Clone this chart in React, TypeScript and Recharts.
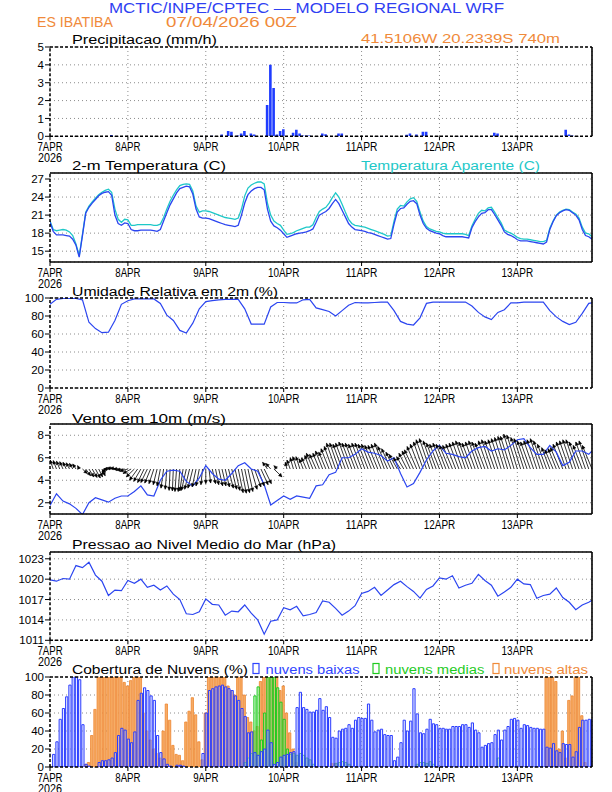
import React from 'react';
import { ComposedChart, Bar, Line, XAxis, YAxis, CartesianGrid, ReferenceLine } from 'recharts';

const FONT = '"Liberation Sans", Arial, Helvetica, sans-serif';
const C_TITLE = '#2f3ff2';
const C_LINE = '#2b45f0';
const C_CYAN = '#1ec8c8';
const C_ORANGE = '#f08a3a';
const C_GREEN = '#1fcb1f';

// time axis: hours since 07APR2026 00Z
const END_HOUR = 167;
const dayTicks = [0, 24, 48, 72, 96, 120, 144];
const dayLabels = ['7APR', '8APR', '9APR', '10APR', '11APR', '12APR', '13APR'];
const yearLabel = '2026';

const hourly = Array.from({ length: 168 }, (_, i) => i); // 0..167
const barHours = Array.from({ length: 167 }, (_, i) => i + 1); // 1..167
const twoHourly = [...Array.from({ length: 84 }, (_, i) => i * 2), 167];

// precipitation (mm/h), sparse
const precipHours = [2, 3, 4, 5, 19, 46, 47, 48, 50, 53, 55, 56, 58, 59, 60, 62, 63, 67, 68, 69, 70, 71, 72, 75, 76, 77, 78, 79, 80, 84, 85, 89, 90, 101, 102, 103, 110, 111, 113, 115, 116, 126, 127, 128, 137, 138, 152, 153, 159, 160, 161];
const precipValues = [0.02, 0.02, 0.02, 0.02, 0.07, 0.02, 0.02, 0.02, 0.03, 0.1, 0.3, 0.25, 0.05, 0.15, 0.3, 0.15, 0.1, 1.75, 4.0, 2.7, 0.1, 0.3, 0.4, 0.2, 0.37, 0.15, 0.04, 0.04, 0.04, 0.15, 0.12, 0.15, 0.15, 0.02, 0.02, 0.02, 0.08, 0.15, 0.1, 0.25, 0.25, 0.02, 0.02, 0.02, 0.2, 0.15, 0.02, 0.02, 0.37, 0.1, 0.05];

// 2-m temperature (C), hourly
const temp2m = [
  19.8, 18.3, 17.7, 17.7, 17.7, 17.6, 17.5, 17.0, 16.0, 14.0,
  17.6, 21.3, 22.3, 23.0, 23.6, 24.2, 24.6, 24.8, 24.9, 24.3,
  21.0, 19.6, 19.3, 19.7, 19.6, 18.6, 18.4, 18.4, 18.5, 18.5,
  18.5, 18.5, 18.4, 18.3, 18.6, 20.0, 21.4, 22.7, 23.7, 24.7,
  25.4, 25.6, 25.8, 25.7, 24.5, 22.0, 20.7, 20.5, 20.5, 20.4,
  20.2, 20.0, 19.8, 19.6, 19.4, 19.3, 19.2, 19.1, 19.3, 21.0,
  23.0, 24.4, 25.0, 25.4, 25.6, 25.6, 25.2, 22.0, 20.0, 19.2,
  18.9, 18.5, 17.9, 17.3, 17.5, 17.7, 17.9, 18.0, 18.1, 18.2,
  18.4, 18.7, 19.8, 21.0, 21.3, 21.6, 22.1, 22.9, 23.6, 22.9,
  21.8, 20.7, 19.6, 19.0, 18.6, 18.5, 18.4, 18.3, 18.1, 18.0,
  17.8, 17.6, 17.4, 17.2, 17.0, 17.1, 19.5, 21.5, 22.1, 22.2,
  22.8, 23.3, 23.4, 22.9, 21.0, 19.6, 18.8, 18.4, 18.2, 18.0,
  17.9, 17.6, 17.4, 17.4, 17.4, 17.4, 17.4, 17.4, 17.3, 17.2,
  18.9, 19.9, 20.7, 21.3, 21.4, 21.9, 21.9, 21.1, 20.2, 19.3,
  18.2, 17.8, 17.6, 17.3, 16.9, 16.7, 16.7, 16.7, 16.6, 16.5,
  16.4, 16.3, 16.2, 16.5, 18.6, 19.9, 20.9, 21.4, 21.7, 21.9,
  21.8, 21.4, 21.0, 20.2, 18.6, 17.6, 17.4, 17.0,
];

// apparent temperature (C), hourly
const tempApparent = [
  20.0, 18.6, 18.4, 18.5, 18.6, 18.5, 18.2, 17.6, 16.2, 14.2,
  17.8, 21.5, 22.5, 23.2, 23.8, 24.4, 24.8, 25.1, 25.3, 24.8,
  22.0, 20.3, 19.8, 20.3, 20.2, 19.3, 19.3, 19.4, 19.4, 19.4,
  19.4, 19.4, 19.3, 19.3, 19.5, 20.6, 22.0, 23.3, 24.3, 25.2,
  25.9, 26.1, 26.2, 26.1, 25.0, 22.5, 21.5, 21.7, 21.7, 21.6,
  21.4, 21.2, 21.0, 20.8, 20.6, 20.5, 20.4, 20.3, 20.5, 22.0,
  24.2, 25.5, 26.0, 26.3, 26.5, 26.5, 26.2, 23.0, 21.0, 20.0,
  19.6, 19.3, 18.5, 17.8, 17.9, 18.1, 18.4, 18.6, 18.8, 19.0,
  19.0, 19.4, 20.6, 21.6, 22.0, 22.3, 23.0, 23.9, 24.7, 24.0,
  22.8, 21.5, 20.3, 19.6, 19.3, 19.2, 19.1, 19.0, 18.8, 18.6,
  18.4, 18.2, 18.0, 17.8, 17.5, 17.6, 20.0, 22.0, 22.6, 22.5,
  23.2, 23.7, 23.9, 23.3, 21.5, 20.0, 19.1, 18.7, 18.5, 18.3,
  18.2, 18.0, 17.9, 17.9, 17.9, 17.9, 17.9, 17.9, 17.8, 17.6,
  19.2, 20.3, 21.3, 21.8, 21.7, 22.2, 22.3, 21.5, 20.6, 19.7,
  18.5, 18.2, 18.0, 17.7, 17.3, 17.1, 17.0, 17.0, 16.9, 16.8,
  16.7, 16.6, 16.6, 16.8, 18.8, 20.0, 21.0, 21.5, 21.8, 22.0,
  21.9, 21.5, 21.2, 20.5, 19.0, 18.0, 17.9, 17.4,
];

// relative humidity (%), every 2 h
const relHumidity = [
  93, 98.5, 99.5, 99.5, 99.5, 98,
  73, 66, 61.5, 62, 75, 93,
  97, 99, 99, 99, 99, 94,
  81, 75, 64, 61, 72, 88,
  96, 97, 98, 98.5, 98.5, 98.5,
  88, 71, 71, 71, 90, 95,
  95, 94.5, 94.5, 98, 98.5, 89,
  87, 85, 80, 86, 92, 95,
  94.5, 94.5, 95, 95.5, 95.5, 86,
  74, 71, 70, 78, 94, 95.5,
  95.5, 95.5, 95.5, 95.5, 95.5, 91,
  84, 79, 76, 84, 87, 94.5,
  94.5, 95.5, 95.5, 95.5, 95.5, 86,
  79, 74, 70.5, 73, 83, 94,
  94.5,
];

// 10 m wind speed (m/s), every 2 h
const windSpeed = [
  1.75, 2.8, 2.15, 1.9, 1.5, 0.95,
  2.0, 2.45, 2.25, 2.05, 2.4, 2.6,
  2.6, 3.0, 3.5, 2.7, 2.6, 4.0,
  4.8, 4.9, 4.8, 3.9, 3.5, 4.2,
  5.3, 4.6, 4.1, 4.0, 4.6, 5.3,
  5.55, 5.0, 4.8, 3.6, 1.8, 2.2,
  2.6, 2.3, 2.6, 2.5, 2.4, 3.5,
  3.6, 4.5, 4.7, 6.0, 6.0, 6.3,
  6.8, 6.5, 6.4, 6.2, 5.7, 6.0,
  4.6, 3.4, 3.7, 4.7, 5.8, 6.6,
  7.1, 6.4, 6.3, 6.1, 6.0, 6.6,
  6.9, 7.0, 6.6, 6.8, 6.7, 7.1,
  7.6, 7.7, 6.9, 6.3, 6.3, 7.1,
  6.5, 5.3, 5.6, 6.6, 6.6, 6.3,
  6.6,
];

// wind vectors drawn from the 5 m/s line: tip height and horizontal offset (h), hourly
const windTip = [
  5.85, 5.8, 5.75, 5.7, 5.65, 5.6, 5.55, 5.5, 5.45, 5.3,
  4.6, 4.4, 4.3, 4.25, 4.2, 4.3, 4.4, 4.6, 4.8, 5.0,
  5.1, 5.1, 5.0, 4.9, 4.8, 4.6, 4.3, 4.0, 3.9, 3.8,
  3.8, 3.75, 3.7, 3.6, 3.5, 3.3, 3.2, 3.1, 3.05, 3.0,
  3.0, 3.05, 3.1, 3.2, 3.3, 3.4, 3.5, 3.6, 3.7, 3.75,
  3.7, 3.6, 3.5, 3.5, 3.4, 3.3, 3.2, 3.1, 2.9, 2.85,
  2.9, 3.0, 3.2, 3.4, 3.5, 3.6, 3.7, 5.6, 5.5, 4.3,
  5.3, null, null, 5.6, 5.8, 6.0, 6.1, 6.1, 5.9, 6.0,
  6.2, 6.4, 6.3, 6.4, 6.6, 6.5, 6.8, 7.0, 7.3, 7.3,
  7.2, 7.3, 7.4, 7.3, 7.3, 7.2, 7.3, 7.3, 7.2, 7.2,
  7.1, 7.1, 7.2, 7.3, 7.0, 6.8, 6.5, 6.3, 6.0, 6.1,
  6.4, 6.6, 6.7, 7.0, 7.2, 7.4, 7.6, 7.7, 7.5, 7.3,
  7.2, 7.3, 7.2, 7.1, 7.1, 7.2, 7.3, 7.4, 7.5, 7.4,
  7.3, 7.4, 7.5, 7.4, 7.3, 7.5, 7.6, 7.5, 7.6, 7.7,
  7.8, 7.9, 7.9, 8.1, 8.0, 7.8, 7.7, 7.5, 7.4, 7.5,
  7.6, 7.7, 7.5, 7.2, 6.9, 6.7, 6.8, 6.9, 7.2, 7.4,
  7.5, 7.6, 7.6, 7.4, 7.1, 7.4, 7.5, 7.1,
];
const windDx = [
  -1, -1, -1, -1, -1, -1, -1, -1, -1, -0.5,
  1.5, 1.5, 1.5, 1.5, 1.5, 1.2, 1, -1, -2, -2.5,
  -2.5, -2.5, -2.5, -2.5, -2.5, -2.5, -2.5, -2.5, -2.2, -2,
  -2, -1.8, -1.5, -1.2, -1, -0.8, -0.5, -0.3, -0.3, -0.5,
  -0.5, -1, -1.5, -1.5, -1.5, -1.2, -1, -0.5, 0, 0.5,
  1, 1, 1.2, 1.2, 1.3, 1.5, 1.5, 1.5, 1.5, 1.5,
  1.5, 1.5, 1.8, 2, 2, 2.2, 2.2, -1.5, -1.5, 2.5,
  -1, 0, 0, -0.5, -1, -1, -1.2, -1.2, -1.2, -1.5,
  -1.5, -2, -2, -2, -2.2, -2.2, -2.5, -2.5, -2.8, -2.8,
  -2.8, -3, -3, -3, -3, -3, -3, -3, -3, -3,
  -3, -3, -3, -3, -3, -2.8, -2.5, -2.5, -2.2, -2.2,
  -2.5, -2.5, -2.8, -3, -3, -3, -3.2, -3.2, -3, -3,
  -3, -3, -3, -3, -3, -3, -3, -3, -3, -3,
  -3, -3, -3, -3, -3, -3, -3, -3, -3, -3,
  -3, -3, -3.2, -3.2, -3.2, -3, -3, -3, -3, -3,
  -3, -3, -3, -2.8, -2.5, -2.5, -2.5, -2.8, -3, -3,
  -3, -3, -3, -3, -2.8, -3, -3, -3,
];

// mean sea level pressure (hPa), every 2 h
const pressure = [
  1019.9, 1019.7, 1020.1, 1020.0, 1022.0, 1021.7,
  1022.5, 1020.6, 1019.7, 1017.6, 1018.4, 1018.3,
  1019.8, 1019.4, 1020.0, 1018.8, 1019.1, 1018.4,
  1019.0, 1017.8, 1017.0, 1014.9, 1014.8, 1015.2,
  1017.1, 1016.3, 1016.2, 1014.7, 1015.3, 1015.2,
  1016.2, 1015.0, 1014.0, 1011.9, 1013.8, 1014.0,
  1015.8, 1015.5, 1016.0, 1014.6, 1014.8, 1015.1,
  1016.8, 1016.6, 1015.7, 1014.7, 1015.3, 1016.1,
  1017.9, 1018.2, 1018.8, 1017.6, 1018.4, 1019.2,
  1019.7, 1018.9, 1018.2, 1017.2, 1018.5, 1019.0,
  1020.2, 1020.0, 1020.5, 1018.7, 1019.1, 1019.4,
  1020.7, 1019.8, 1019.1, 1017.5, 1018.1, 1018.8,
  1020.0, 1019.3, 1019.2, 1017.2, 1017.6, 1017.8,
  1018.7, 1017.3, 1016.6, 1015.5, 1016.2, 1016.6,
  1016.9,
];

// cloud cover (%), hourly from 01Z
const cloudLow = [
  14, 28, 53, 65, 78, 91, 100, 100, 97, 47, 3, 1, 0, 0, 5, 7, 7, 8, 10, 16, 35, 43, 41, 31,
  27, 39, 74, 82, 88, 85, 79, 74, 35, 16, 9, 3, 1, 0, 2, 2, 1, 0, 0, 0, 0, 0, 15, 60,
  85, 87, 89, 90, 91, 89, 87, 85, 79, 74, 65, 56, 38, 39, 16, 13, 17, 20, 41, 27, 3, 5, 11, 13,
  14, 16, 17, 66, 83, 66, 64, 61, 61, 63, 76, 63, 67, 55, 33, 32, 40, 42, 43, 47, 43, 52, 55, 54,
  54, 70, 52, 39, 41, 42, 36, 35, 35, 7, 11, 27, 52, 40, 51, 87, 59, 38, 37, 42, 53, 48, 47, 43,
  43, 42, 42, 45, 45, 45, 47, 47, 44, 49, 41, 38, 22, 24, 26, 27, 36, 41, 30, 41, 45, 53, 54, 52,
  43, 47, 46, 44, 43, 43, 42, 42, 22, 21, 26, 18, 16, 26, 25, 25, 11, 17, 44, 52, 52, 53, 53,
];
const cloudMid = [
  0, 0, 0, 0, 0, 0, 0, 0, 0, 0, 0, 0, 0, 0, 0, 0, 0, 0, 0, 0, 0, 0, 0, 0,
  0, 0, 0, 0, 0, 0, 0, 0, 0, 0, 0, 0, 0, 0, 0, 0, 0, 0, 0, 0, 0, 0, 0, 0,
  0, 0, 0, 0, 0, 0, 0, 0, 0, 0, 0, 5, 10, 15, 79, 89, 30, 60, 100, 100, 100, 88, 72, 53,
  20, 14, 15, 13, 15, 13, 10, 8, 3, 0, 0, 0, 0, 0, 0, 4, 5, 6, 5, 3, 0, 0, 0, 0,
  0, 0, 0, 0, 0, 0, 0, 0, 0, 0, 0, 0, 0, 0, 0, 0, 3, 5, 5, 4, 6, 3, 0, 0,
  0, 0, 0, 0, 0, 0, 0, 0, 0, 0, 0, 0, 0, 0, 0, 0, 0, 10, 0, 0, 0, 0, 0, 0,
  0, 0, 0, 0, 0, 0, 0, 0, 0, 0, 0, 0, 0, 0, 0, 0, 0, 0, 0, 0, 0, 0, 0,
];
const cloudHigh = [
  0, 0, 0, 0, 0, 0, 0, 0, 0, 0, 3, 5, 35, 64, 100, 100, 100, 100, 100, 100, 100, 100, 94, 90,
  96, 100, 100, 100, 60, 40, 30, 20, 15, 10, 40, 70, 52, 24, 14, 13, 7, 50, 62, 77, 58, 28, 8, 60,
  100, 100, 100, 100, 100, 100, 90, 85, 80, 100, 100, 80, 55, 50, 40, 45, 95, 100, 100, 100, 100, 100, 85, 90,
  60, 38, 20, 5, 0, 0, 0, 0, 0, 0, 0, 0, 0, 0, 4, 4, 0, 0, 0, 0, 0, 0, 0, 0,
  0, 0, 0, 0, 0, 0, 0, 0, 0, 0, 0, 0, 0, 0, 0, 0, 0, 0, 0, 0, 0, 0, 0, 0,
  0, 0, 0, 0, 0, 0, 0, 0, 0, 0, 0, 0, 0, 0, 0, 0, 0, 0, 0, 0, 0, 0, 0, 0,
  0, 0, 0, 0, 0, 0, 0, 0, 100, 100, 100, 95, 20, 40, 10, 74, 79, 100, 100, 57, 5, 0, 0,
];

// tables for the library
const precipData = precipHours.map((h, i) => ({ h, p: precipValues[i] }));
const tempData = hourly.map((h, i) => ({ h, t: temp2m[i], a: tempApparent[i] }));
const rhData = twoHourly.map((h, i) => ({ h, rh: relHumidity[i] }));
const windData = twoHourly.map((h, i) => ({ h, v: windSpeed[i] }));
const presData = twoHourly.map((h, i) => ({ h, p: pressure[i] }));
const cloudData = barHours.map((h, i) => ({ h, low: cloudLow[i], mid: cloudMid[i], high: cloudHigh[i] }));
const arrowData: any[] = [];
windTip.forEach((tip, h) => {
  if (tip == null) return;
  arrowData.push({ h, y: 5 });
  arrowData.push({ h: h + windDx[h], y: tip, tip: true });
  arrowData.push({ h: h + windDx[h], y: null });
});

const W = 612;
const TOPPAD = 9;
const AXIS_H = 30;

const DayTick = ({ x, y, payload }: any) => {
  const i = Math.round(payload.value / 24);
  const label = dayLabels[i] || '';
  return (
    <g>
      <text x={x} y={y + 8.5} textAnchor="middle" fontFamily={FONT} fontSize={12} fill="#000"
        textLength={label.length * 6.3} lengthAdjust="spacingAndGlyphs">{label}</text>
      {i === 0 && (
        <text x={x} y={y + 19.5} textAnchor="middle" fontFamily={FONT} fontSize={12} fill="#000"
          textLength={24} lengthAdjust="spacingAndGlyphs">{yearLabel}</text>
      )}
    </g>
  );
};

const ArrowHead = (props: any) => {
  const { cx, cy, index, payload, points } = props;
  const key = `ah-${index}`;
  if (!payload || !payload.tip || cx == null || cy == null || !points) return <g key={key} />;
  const base = points[index - 1];
  if (!base || base.x == null || base.y == null) return <g key={key} />;
  const dx = cx - base.x;
  const dy = cy - base.y;
  const len = Math.hypot(dx, dy);
  if (len < 0.5) return <g key={key} />;
  const ux = dx / len;
  const uy = dy / len;
  const hl = 3.4;
  const hw = 1.7;
  const bx = cx - ux * hl;
  const by = cy - uy * hl;
  const d = `M${cx},${cy}L${bx - uy * hw},${by + ux * hw}L${bx + uy * hw},${by - ux * hw}Z`;
  return <path key={key} d={d} fill="#000" stroke="#000" strokeWidth={0.4} />;
};

const timeAxis = (id: any = 0, hide = false) => (
  <XAxis
    key={`x-${id}`}
    xAxisId={id}
    type="number"
    dataKey="h"
    domain={[0, END_HOUR]}
    allowDataOverflow
    ticks={dayTicks}
    interval={0}
    axisLine={false}
    tickLine={{ stroke: '#000' }}
    tickSize={4}
    tick={(p: any) => <DayTick {...p} />}
    height={AXIS_H}
    hide={hide}
  />
);

const valueAxis = (domain: number[], ticks: number[]) => (
  <YAxis
    type="number"
    domain={domain}
    ticks={ticks}
    interval={0}
    allowDataOverflow
    axisLine={false}
    tickLine={{ stroke: '#000' }}
    tickSize={5}
    tickMargin={1}
    width={50}
    tick={{ fontSize: 11.5, fill: '#000', fontFamily: FONT }}
  />
);

const grid = <CartesianGrid stroke="#8c8c8c" strokeDasharray="1 3" />;

const frame = (y0: number, y1: number, topDash: boolean, bottomDash: boolean) => [
  <ReferenceLine key="fl" x={0} stroke="#000" strokeWidth={1.5} strokeDasharray="3 2" />,
  <ReferenceLine key="fr" x={END_HOUR} stroke="#000" strokeWidth={1.6} />,
  <ReferenceLine key="ft" y={y1} stroke="#000" strokeWidth={1.5} strokeDasharray={topDash ? '3 2' : undefined} />,
  <ReferenceLine key="fb" y={y0} stroke="#000" strokeWidth={1.5} strokeDasharray={bottomDash ? '3 2' : undefined} />,
];

const chartBox = (plotTop: number, plotH: number) => ({
  style: { position: 'absolute' as const, left: 0, top: plotTop - TOPPAD },
  height: TOPPAD + plotH + AXIS_H,
});

const margin = { top: TOPPAD, right: 20, bottom: 0, left: 0 };

type Txt = { x: number; y: number; w: number; size: number; color: string; text: string };
const texts: Txt[] = [
  { x: 109, y: 13, w: 395, size: 15, color: C_TITLE, text: 'MCTIC/INPE/CPTEC \u2014 MODELO REGIONAL WRF' },
  { x: 37, y: 26.5, w: 76, size: 14, color: C_ORANGE, text: 'ES IBATIBA' },
  { x: 166, y: 26.5, w: 131, size: 14, color: C_ORANGE, text: '07/04/2026 00Z' },
  { x: 72, y: 44.3, w: 145, size: 12, color: '#000', text: 'Precipitacao (mm/h)' },
  { x: 361, y: 42.5, w: 199, size: 13.5, color: C_ORANGE, text: '41.5106W 20.2339S 740m' },
  { x: 72, y: 170.3, w: 154, size: 12, color: '#000', text: '2-m Temperatura (C)' },
  { x: 361, y: 170.3, w: 179, size: 12, color: C_CYAN, text: 'Temperatura Aparente (C)' },
  { x: 72, y: 296, w: 206, size: 12, color: '#000', text: 'Umidade Relativa em 2m (%)' },
  { x: 72, y: 422.5, w: 154, size: 12, color: '#000', text: 'Vento em 10m (m/s)' },
  { x: 72, y: 548.5, w: 264, size: 12, color: '#000', text: 'Pressao ao Nivel Medio do Mar (hPa)' },
  { x: 72, y: 674, w: 176, size: 12, color: '#000', text: 'Cobertura de Nuvens (%)' },
  { x: 265.5, y: 674, w: 94, size: 12, color: '#2f45ff', text: 'nuvens baixas' },
  { x: 385, y: 674, w: 99.5, size: 12, color: C_GREEN, text: 'nuvens medias' },
  { x: 504, y: 674, w: 84, size: 12, color: C_ORANGE, text: 'nuvens altas' },
];
const legendBoxes = [
  { x: 253, color: '#2f45ff' },
  { x: 373, color: C_GREEN },
  { x: 493, color: C_ORANGE },
];

export default function App() {
  const p1 = chartBox(46.7, 89.3);
  const p2 = chartBox(172.7, 89);
  const p3 = chartBox(298.3, 90);
  const p4 = chartBox(424, 90);
  const p5 = chartBox(551.7, 88.3);
  const p6 = chartBox(676.7, 90);

  return (
    <div style={{ position: 'absolute', left: 0, top: 0, width: W, height: 792, background: '#fff', overflow: 'hidden', fontFamily: FONT }}>
      <div style={p1.style}>
        <ComposedChart width={W} height={p1.height} margin={margin} data={precipData}>
          {grid}
          {timeAxis()}
          {valueAxis([0, 5], [0, 1, 2, 3, 4, 5])}
          <Bar dataKey="p" fill="#1f3cff" barSize={2.6} isAnimationActive={false} />
          {frame(0, 5, true, true)}
        </ComposedChart>
      </div>

      <div style={p2.style}>
        <ComposedChart width={W} height={p2.height} margin={margin} data={tempData}>
          {grid}
          {timeAxis()}
          {valueAxis([13.2, 28], [15, 18, 21, 24, 27])}
          <Line dataKey="a" stroke={C_CYAN} strokeWidth={1.3} dot={false} activeDot={false} isAnimationActive={false} />
          <Line dataKey="t" stroke={C_LINE} strokeWidth={1.3} dot={false} activeDot={false} isAnimationActive={false} />
          {frame(13.2, 28, false, false)}
        </ComposedChart>
      </div>

      <div style={p3.style}>
        <ComposedChart width={W} height={p3.height} margin={margin} data={rhData}>
          {grid}
          {timeAxis()}
          {valueAxis([0, 100], [0, 20, 40, 60, 80, 100])}
          <Line dataKey="rh" stroke={C_LINE} strokeWidth={1.2} dot={false} activeDot={false} isAnimationActive={false} />
          {frame(0, 100, true, true)}
        </ComposedChart>
      </div>

      <div style={p4.style}>
        <ComposedChart width={W} height={p4.height} margin={margin}>
          {grid}
          {timeAxis()}
          {valueAxis([1, 9], [2, 4, 6, 8])}
          <Line data={arrowData} dataKey="y" stroke="#000" strokeWidth={0.8} dot={ArrowHead} activeDot={false}
            connectNulls={false} isAnimationActive={false} />
          <Line data={windData} dataKey="v" stroke={C_LINE} strokeWidth={1.2} dot={false} activeDot={false} isAnimationActive={false} />
          {frame(1, 9, false, false)}
        </ComposedChart>
      </div>

      <div style={p5.style}>
        <ComposedChart width={W} height={p5.height} margin={margin} data={presData}>
          {grid}
          {timeAxis()}
          {valueAxis([1011, 1024], [1011, 1014, 1017, 1020, 1023])}
          <Line dataKey="p" stroke={C_LINE} strokeWidth={1.2} dot={false} activeDot={false} isAnimationActive={false} />
          {frame(1011, 1024, false, true)}
        </ComposedChart>
      </div>

      <div style={p6.style}>
        <ComposedChart width={W} height={p6.height} margin={margin} data={cloudData}>
          {grid}
          {timeAxis()}
          {timeAxis('hi', true)}
          {timeAxis('mid', true)}
          {valueAxis([0, 100], [0, 20, 40, 60, 80, 100])}
          <Bar xAxisId="hi" dataKey="high" fill="#f6ad66" stroke="#ef8530" strokeWidth={0.8} barSize={2.3} isAnimationActive={false} />
          <Bar xAxisId="mid" dataKey="mid" fill="#9ef09e" fillOpacity={0.5} stroke={C_GREEN} strokeWidth={1} barSize={2.2} isAnimationActive={false} />
          <Bar dataKey="low" fill="#c9d1ff" fillOpacity={0.45} stroke="#2a3cff" strokeWidth={1} barSize={2.2} isAnimationActive={false} />
          {frame(0, 100, true, true)}
        </ComposedChart>
      </div>

      <svg width={W} height={792} style={{ position: 'absolute', left: 0, top: 0, pointerEvents: 'none' }}>
        {texts.map((t) => (
          <text key={t.text} x={t.x} y={t.y} fontSize={t.size} fill={t.color} fontFamily={FONT}
            textLength={t.w} lengthAdjust="spacingAndGlyphs">{t.text}</text>
        ))}
        {legendBoxes.map((b) => (
          <rect key={b.x} x={b.x} y={663.5} width={6} height={10} fill="none" stroke={b.color} strokeWidth={1.2} />
        ))}
      </svg>
    </div>
  );
}
